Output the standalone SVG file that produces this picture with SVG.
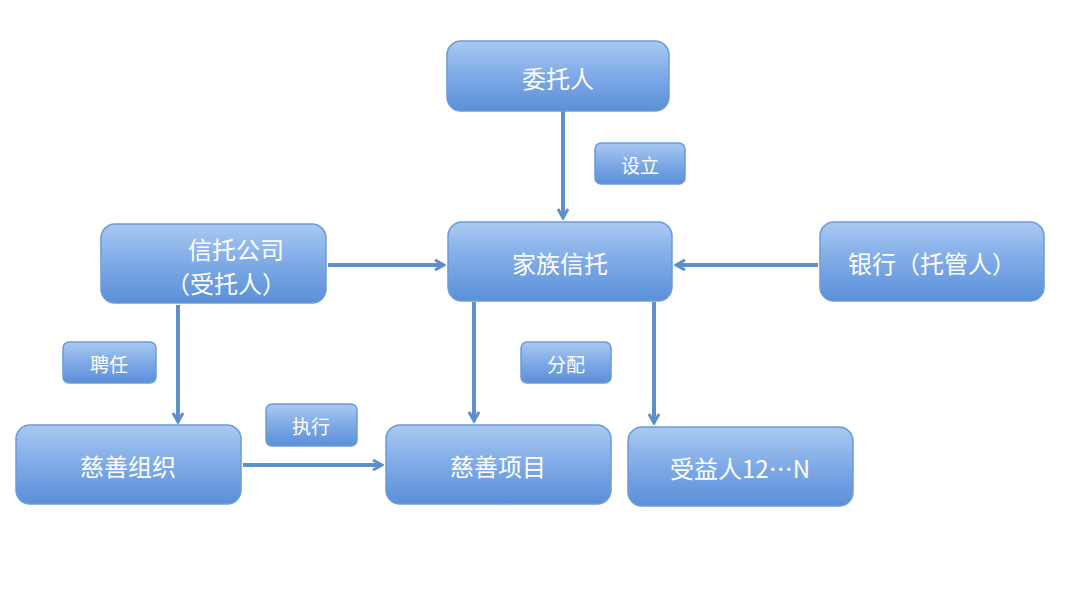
<svg xmlns="http://www.w3.org/2000/svg" width="1080" height="596" viewBox="0 0 1080 596">
<defs>
<linearGradient id="g" x1="0" y1="0" x2="0" y2="1"><stop offset="0" stop-color="#a9c9f2"/><stop offset="0.5" stop-color="#7eaae6"/><stop offset="1" stop-color="#5a8fd8"/></linearGradient>
<marker id="a" viewBox="0 0 12 12" refX="10" refY="6" markerWidth="12" markerHeight="12" markerUnits="userSpaceOnUse" orient="auto"><path d="M1,1 L10,6 L1,11" fill="none" stroke="#5f8fc8" stroke-width="3"/></marker>
<style>
.n{fill:url(#g);stroke:#6d9bd6;stroke-width:1.5}
.t{font-family:"Noto Sans CJK SC","Noto Sans",sans-serif;font-size:24px;fill:#fff;text-anchor:middle;dominant-baseline:central}
.s{font-size:19px}
.c line{stroke:#5f8fc8;stroke-width:4;marker-end:url(#a)}
</style>
</defs>
<rect width="1080" height="596" fill="#fff"/>
<g class="c">
<line x1="563" y1="111" x2="563" y2="218"/>
<line x1="328" y1="265" x2="444" y2="265"/>
<line x1="818" y1="265" x2="676" y2="265"/>
<line x1="178" y1="305" x2="178" y2="422"/>
<line x1="474" y1="302" x2="474" y2="421"/>
<line x1="654" y1="302" x2="654" y2="423"/>
<line x1="243" y1="465" x2="382" y2="465"/>
</g>
<g id="weituoren"><rect class="n" x="447" y="41" width="222" height="70" rx="14"/><text class="t" x="558" y="77">委托人</text></g>
<g id="jiazu"><rect class="n" x="448" y="222" width="224" height="79" rx="14"/><text class="t" x="560" y="262">家族信托</text></g>
<g id="xintuo"><rect class="n" x="101" y="224" width="225" height="79" rx="14"/><text class="t" x="236" y="248">信托公司</text><text class="t" x="226" y="282">（受托人）</text></g>
<g id="bank"><rect class="n" x="820" y="222" width="224" height="79" rx="14"/><text class="t" x="932" y="262">银行（托管人）</text></g>
<g id="zuzhi"><rect class="n" x="16" y="425" width="225" height="79" rx="14"/><text class="t" x="128" y="465">慈善组织</text></g>
<g id="xiangmu"><rect class="n" x="386" y="425" width="225" height="79" rx="14"/><text class="t" x="498" y="465">慈善项目</text></g>
<g id="shouyi"><rect class="n" x="628" y="427" width="225" height="79" rx="14"/><text class="t" x="740" y="467">受益人12…N</text></g>
<g id="l1"><rect class="n" x="595" y="143" width="90" height="41" rx="6"/><text class="t s" x="640" y="164">设立</text></g>
<g id="l2"><rect class="n" x="63" y="342" width="93" height="41" rx="6"/><text class="t s" x="109" y="363">聘任</text></g>
<g id="l3"><rect class="n" x="521" y="342" width="90" height="41" rx="6"/><text class="t s" x="566" y="363">分配</text></g>
<g id="l4"><rect class="n" x="266" y="404" width="91" height="42" rx="6"/><text class="t s" x="311" y="425">执行</text></g>
</svg>
